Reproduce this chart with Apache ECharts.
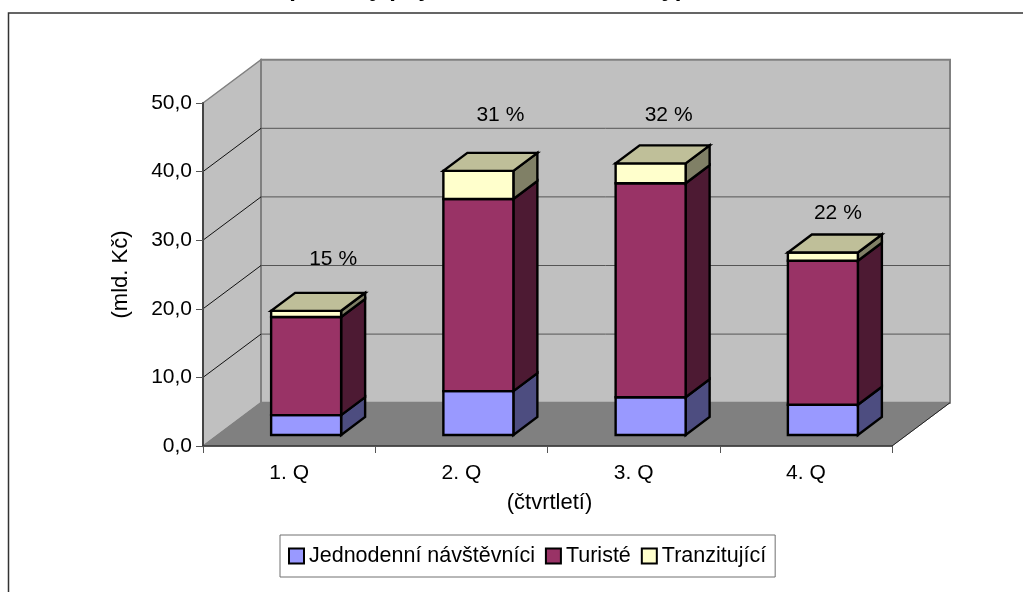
<!DOCTYPE html>
<html><head><meta charset="utf-8">
<style>html,body{margin:0;padding:0;background:#fff}#c{width:1023px;height:592px}</style>
<script src="https://cdn.jsdelivr.net/npm/echarts@6/dist/echarts.min.js"></script>
</head><body><div id="c"></div>
<script>
const categories = ['1. Q','2. Q','3. Q','4. Q'];
const jednodenni = [2.9, 6.4, 5.5, 4.4];
const turiste = [14.3, 28.0, 31.2, 21.0];
const tranzitujici = [0.9, 4.1, 2.9, 1.2];
const shareLabels = ['15 %','31 %','32 %','22 %'];
const shareLabelLevels = [27.2, 48.2, 48.2, 34.0];
const yTicks = [0,10,20,30,40,50];

const FONT = '"Liberation Sans", Arial, sans-serif';
const DX = 58, DY = 43.3;
const BAR_L = -18, BAR_W = 70;
const BAR_DX = 24, BAR_DY = 18, BAR_LIFT = 11;
const LABEL_SHIFT = [44, 39, 35, 32];

function poly(points, fill, stroke, lw, z2) {
  return {type:'polygon', z2:z2||0, shape:{points}, style:{fill, stroke, lineWidth:lw, lineJoin:'miter'}};
}
function line(x1,y1,x2,y2,stroke,lw){
  return {type:'line', shape:{x1,y1,x2,y2}, style:{stroke, lineWidth:lw}};
}
function renderWalls(params, api){
  const s = params.coordSys, x0 = s.x, x1 = s.x + s.width;
  const y0 = api.coord([0,0])[1], yt = api.coord([0,50])[1];
  const ch = [];
  ch.push(poly([[x0,yt],[x0+DX,yt-DY],[x0+DX,y0-DY],[x0,y0]],'#C0C0C0','#808080',1.5));
  ch.push(poly([[x0+DX,yt-DY],[x1+DX,yt-DY],[x1+DX,y0-DY],[x0+DX,y0-DY]],'#C0C0C0','#808080',2));
  yTicks.slice(1,-1).forEach(v=>{
    const y = api.coord([0,v])[1];
    ch.push(line(x0,y,x0+DX,y-DY,'#111',1));
    ch.push(line(x0+DX,y-DY,x1+DX,y-DY,'#555',1));
  });
  ch.push(poly([[x0,y0],[x1,y0],[x1+DX,y0-DY],[x0+DX,y0-DY]],'#808080','#808080',1));
  ch.push(line(x1,y0,x1+DX,y0-DY,'#222',1));
  return {type:'group', children:ch};
}
function barRenderer(values, below, front, side, top){
  return function(params, api){
    const i = params.dataIndex;
    const c0 = api.coord([i, below[i]]), c1 = api.coord([i, below[i]+values[i]]);
    const xl = c0[0]+BAR_L, xr = xl+BAR_W, yb = c0[1]-BAR_LIFT, yt = c1[1]-BAR_LIFT;
    const ch = [
      poly([[xr,yb],[xr+BAR_DX,yb-BAR_DY],[xr+BAR_DX,yt-BAR_DY],[xr,yt]],side,'#000',2.4),
      poly([[xl,yb],[xr,yb],[xr,yt],[xl,yt]],front,'#000',2.4)
    ];
    if(top) ch.push(poly([[xl,yt],[xr,yt],[xr+BAR_DX,yt-BAR_DY],[xl+BAR_DX,yt-BAR_DY]],top,'#000',2.4));
    return {type:'group', children:ch};
  };
}
const sum2 = jednodenni.map((v,i)=>v+turiste[i]);
const zero = jednodenni.map(()=>0);
function barSeries(name, values, below, front, side, top, z){
  return {type:'custom', name, z, coordinateSystem:'cartesian2d', animation:false, silent:true,
    itemStyle:{color:front, borderColor:'#000', borderWidth:2},
    encode:{x:0,y:1},
    data:values.map((v,i)=>[i,v+below[i]]),
    renderItem:barRenderer(values,below,front,side,top)};
}
const option = {
  animation:false,
  backgroundColor:'#fff',
  textStyle:{fontFamily:FONT,color:'#000'},
  title:{text:'Komponenty příjmů ze zahraničí dle typů návštěvníků', left:236, top:-23,
    padding:0, textStyle:{fontFamily:FONT,fontSize:24,fontWeight:'bold',color:'#000'}},
  graphic:[{type:'rect', z:-1, silent:true, shape:{x:8.5,y:13,width:1040,height:620},
    style:{fill:'none',stroke:'#333',lineWidth:1.5}}],
  grid:{left:203,right:131,top:103,bottom:146,containLabel:false},
  legend:{left:280,top:535,orient:'horizontal',padding:[10,9,10,8],itemGap:10,itemWidth:15,itemHeight:15,
    icon:'rect',backgroundColor:'#fff',borderColor:'#707070',borderWidth:1,
    data:['Jednodenní návštěvníci','Turisté','Tranzitující'],
    itemStyle:{borderColor:'#000',borderWidth:2},
    textStyle:{fontFamily:FONT,fontSize:21.5,color:'#000'}},
  xAxis:{type:'category',data:categories,z:6,
    axisLine:{show:true,lineStyle:{color:'#333',width:1.5}},
    axisTick:{show:true,alignWithLabel:false,length:7,lineStyle:{color:'#555',width:1}},
    axisLabel:{fontFamily:FONT,fontSize:21,color:'#000',margin:17},
    splitLine:{show:false},
    name:'(čtvrtletí)',nameLocation:'middle',nameGap:46,
    nameTextStyle:{fontFamily:FONT,fontSize:22,color:'#000',padding:[0,0,0,4]}},
  yAxis:{type:'value',min:0,max:50,interval:10,z:6,
    axisLine:{show:true,lineStyle:{color:'#444',width:2}},
    axisTick:{show:true,length:7,lineStyle:{color:'#555',width:1}},
    axisLabel:{fontFamily:FONT,fontSize:21,color:'#000',margin:11,
      formatter:v=>v.toFixed(1).replace('.',',')},
    splitLine:{show:false},
    name:'(mld. Kč)',nameLocation:'middle',nameGap:71,nameRotate:90,
    nameTextStyle:{fontFamily:FONT,fontSize:22,color:'#000'}},
  series:[
    {type:'custom',name:'pozadí',z:1,silent:true,animation:false,data:[[0,0]],renderItem:renderWalls},
    barSeries('Jednodenní návštěvníci',jednodenni,zero,'#9999FF','#4D4D80',null,2),
    barSeries('Turisté',turiste,jednodenni,'#993366','#4D1A33',null,3),
    barSeries('Tranzitující',tranzitujici,sum2,'#FFFFCC','#808066','#BFBF99',4),
    {type:'custom',name:'podíly',z:7,silent:true,animation:false,
      data:shareLabelLevels.map((v,i)=>[i,v]),
      renderItem:function(params,api){
        const i=params.dataIndex, c=api.coord([i,shareLabelLevels[i]]);
        return {type:'text',style:{x:c[0]+LABEL_SHIFT[i],y:c[1],text:shareLabels[i],
          font:'21px '+FONT,fill:'#000',align:'center',verticalAlign:'middle'}};
      }}
  ]
};
const chart = echarts.init(document.getElementById('c'),null,{renderer:'canvas'});
chart.setOption(option);
</script></body></html>
